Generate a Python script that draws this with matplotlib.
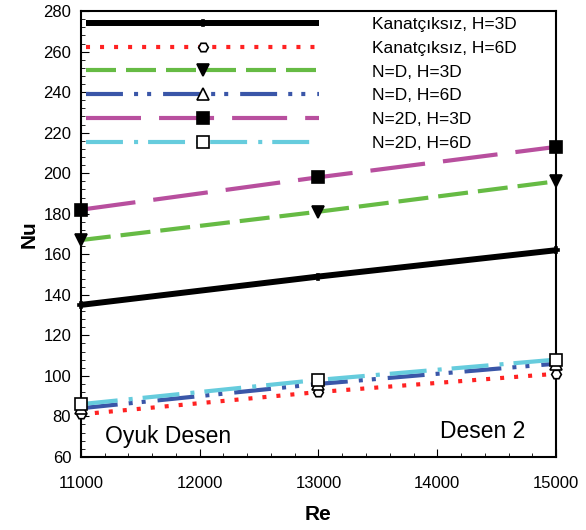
import matplotlib
matplotlib.use("Agg")
import matplotlib.pyplot as plt
from matplotlib.ticker import MultipleLocator

plt.rcParams['font.family'] = ['Liberation Sans', 'DejaVu Sans']
plt.rcParams['lines.scale_dashes'] = False

re_vals = [11000, 13000, 15000]
labels = ["Kanatçıksız, H=3D", "Kanatçıksız, H=6D", "N=D, H=3D", "N=D, H=6D", "N=2D, H=3D", "N=2D, H=6D"]
nu_k3 = [135, 149, 162]
nu_k6 = [81, 92, 101]
nu_d3 = [167, 181, 196]
nu_d6 = [84, 96, 106]
nu_2d3 = [182, 198, 213]
nu_2d6 = [86, 98, 108]

fig = plt.figure(figsize=(5.86, 5.30), dpi=100)
ax = fig.add_axes([0.138, 0.138, 0.811, 0.841])

series = [
    (nu_k3, '#000000', '-', 4.3, 'P', 'k', 5),
    (nu_k6, '#FF2222', (0, (2.9, 7.2)), 3.0, 'H', 'white', 7),
    (nu_d3, '#66BB44', (0, (21.6, 7.2)), 3.0, 'v', 'k', 8),
    (nu_d6, '#3A56A8', (0, (26.6, 8, 2.9, 6.5, 2.9, 8.6)), 3.0, '^', 'white', 8),
    (nu_2d3, '#B84F9E', (0, (39.6, 13)), 3.0, 's', 'k', 8),
    (nu_2d6, '#66CCDD', (0, (26.6, 8, 2.9, 7.2)), 3.0, 's', 'white', 8),
]

handles = []
for (vals, color, ls, lw, mk, mfc, ms), lab in zip(series, labels):
    ax.plot(re_vals, vals, color=color, linestyle=ls, linewidth=lw, solid_capstyle='butt', dash_capstyle='butt')
    ax.plot(re_vals, vals, linestyle='none', marker=mk, markerfacecolor=mfc, markeredgecolor='k',
            markeredgewidth=1.2, markersize=ms, clip_on=False, zorder=5)
    h, = ax.plot([], [], color=color, linestyle=ls, linewidth=lw, marker=mk, markerfacecolor=mfc,
                 markeredgecolor='k', markeredgewidth=1.2, markersize=ms, solid_capstyle='butt',
                 dash_capstyle='butt', label=lab)
    handles.append(h)

leg = ax.legend(handles=handles, loc='upper left', frameon=False, fontsize=12.5, numpoints=1,
                handlelength=13.4, handletextpad=3.05, labelspacing=0.50, borderaxespad=0.2,
                borderpad=0.12)

ax.set_xlim(11000, 15000)
ax.set_ylim(60, 280)
ax.xaxis.set_major_locator(MultipleLocator(1000))
ax.xaxis.set_minor_locator(MultipleLocator(200))
ax.yaxis.set_major_locator(MultipleLocator(20))
ax.yaxis.set_minor_locator(MultipleLocator(4))
ax.tick_params(which='both', direction='in', labelsize=12, top=False, right=False)
ax.tick_params(axis='x', which='major', pad=14)
ax.tick_params(axis='y', which='major', pad=7)
ax.tick_params(which='major', length=6)
ax.tick_params(which='minor', length=3)
for s in ax.spines.values():
    s.set_linewidth(1.5)

ax.set_xlabel('Re', fontsize=15, fontweight='bold', labelpad=10)
ax.set_ylabel('Nu', fontsize=15, fontweight='bold', labelpad=3)

ax.text(0.05, 0.02, 'Oyuk Desen', transform=ax.transAxes, fontsize=16.5, ha='left', va='bottom')
ax.text(0.935, 0.03, 'Desen 2', transform=ax.transAxes, fontsize=16.5, ha='right', va='bottom')

fig.savefig('out.png', dpi=100)
